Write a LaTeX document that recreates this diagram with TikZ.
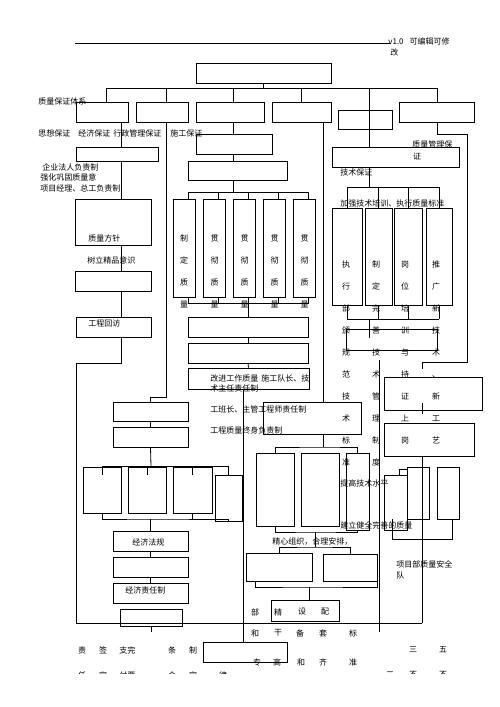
\documentclass[tikz,border=0pt]{standalone}
\usepackage{fontspec}
\newfontfamily\cjk{Noto Sans CJK SC}
\usepackage{tikz}

\begin{document}
\begin{tikzpicture}[x=1pt,y=1pt,line width=0.8pt,
    box/.style={draw=black,rectangle},
    txt/.style={font=\cjk\fontsize{8}{9}\selectfont,anchor=west},
    chr/.style={font=\cjk\fontsize{8}{9}\selectfont},
    vcol/.style={font=\cjk\fontsize{8}{22}\selectfont,align=center}]
            \tikzstyle{every node}+=[inner sep=0pt]
            \useasboundingbox (0,0) rectangle (500,-707);
            \coordinate (hdL) at (75,-43);
            \coordinate (hdR) at (390,-43);
            \draw [black] (hdL) -- (hdR);
            \node[txt] (ver) at (388,-41) {v1.0\hspace{6pt}可编辑可修};
            \node[txt] (ver2) at (390,-52) {改};
            \node[box,minimum width=135,minimum height=20] (top) at (263.5,-73) {};
            \node[box,minimum width=52,minimum height=20] (sysA) at (102,-112) {};
            \node[box,minimum width=52,minimum height=20] (sysB) at (162,-112) {};
            \node[box,minimum width=68,minimum height=20] (sysC) at (230,-112) {};
            \node[box,minimum width=59,minimum height=20] (sysD) at (301.5,-112) {};
            \node[box,minimum width=54,minimum height=19] (sysE) at (365,-119.5) {};
            \node[box,minimum width=75,minimum height=20] (sysF) at (436.5,-112) {};
            \node[box,minimum width=82,minimum height=14] (lead) at (117,-154) {};
            \node[box,minimum width=76,minimum height=46] (aim) at (113,-222) {};
            \node[box,minimum width=76,minimum height=20] (idea) at (113,-281) {};
            \node[box,minimum width=75,minimum height=20] (visit) at (113.5,-327) {};
            \node[box,minimum width=76,minimum height=20] (plan) at (234,-144) {};
            \node[box,minimum width=99,minimum height=19] (spread) at (237.5,-170.5) {};
            \node[box,minimum width=22,minimum height=98] (t1) at (184,-248) {};
            \node[box,minimum width=22,minimum height=98] (t2) at (214.5,-248) {};
            \node[box,minimum width=22,minimum height=98] (t3) at (244.5,-248) {};
            \node[box,minimum width=22,minimum height=98] (t4) at (274.5,-248) {};
            \node[box,minimum width=22,minimum height=98] (t5) at (304.5,-248) {};
            \node[box,minimum width=120,minimum height=20] (m1) at (248,-327) {};
            \node[box,minimum width=120,minimum height=20] (m2) at (248,-353) {};
            \node[box,minimum width=121,minimum height=21] (m3) at (248.5,-378.5) {};
            \node[box,minimum width=98,minimum height=32] (r1) at (312,-418) {};
            \node[box,minimum width=38,minimum height=73] (g1) at (275,-489.5) {};
            \node[box,minimum width=38,minimum height=73] (g2) at (320,-489.5) {};
            \node[box,minimum width=23,minimum height=77] (g3) at (357.5,-491.5) {};
            \node[box,minimum width=66,minimum height=28] (h1) at (279,-567) {};
            \node[box,minimum width=54,minimum height=27] (h2) at (350,-567.5) {};
            \node[box,minimum width=68,minimum height=21] (h3) at (305,-610.5) {};
            \node[box,minimum width=84,minimum height=20] (wk) at (245,-652) {};
            \node[box,minimum width=75,minimum height=19] (k1) at (150.5,-411.5) {};
            \node[box,minimum width=75,minimum height=20] (k2) at (150.5,-437) {};
            \node[box,minimum width=38,minimum height=46] (j1) at (102,-490) {};
            \node[box,minimum width=38,minimum height=46] (j2) at (147,-490) {};
            \node[box,minimum width=39,minimum height=46] (j3) at (192.5,-490) {};
            \node[box,minimum width=27,minimum height=46] (j4) at (228.5,-498) {};
            \node[box,minimum width=75,minimum height=20] (law) at (150.5,-541) {};
            \node[box,minimum width=75,minimum height=20] (k4) at (150.5,-567) {};
            \node[box,minimum width=75,minimum height=20] (duty) at (150.5,-593) {};
            \node[box,minimum width=62,minimum height=17] (k6) at (151,-617.5) {};
            \node[box,minimum width=127,minimum height=20] (mgmt) at (395.5,-157) {};
            \node[box,minimum width=30,minimum height=97] (q1) at (347,-256.5) {};
            \node[box,minimum width=27,minimum height=97] (q2) at (378.5,-256.5) {};
            \node[box,minimum width=28,minimum height=97] (q3) at (408,-256.5) {};
            \node[box,minimum width=26,minimum height=97] (q4) at (439,-256.5) {};
            \node[box,minimum width=91,minimum height=21] (rule) at (391.5,-339.5) {};
            \node[box,minimum width=98,minimum height=33] (n1) at (433,-393.5) {};
            \node[box,minimum width=90,minimum height=33] (n2) at (429,-439.5) {};
            \node[box,minimum width=23,minimum height=55] (u1) at (395.5,-502.5) {};
            \node[box,minimum width=22,minimum height=52] (u2) at (418,-493) {};
            \node[box,minimum width=22,minimum height=52] (u3) at (448,-493) {};
            \coordinate (bus0) at (263.5,-88);
            \coordinate (xA) at (106,0);
            \coordinate (xB) at (166,0);
            \coordinate (xC) at (233,0);
            \coordinate (xD) at (301,0);
            \coordinate (xDr) at (323,0);
            \coordinate (xE) at (369,0);
            \coordinate (xF) at (437,0);
            \coordinate (xL) at (121,0);
            \coordinate (xM) at (243,0);
            \coordinate (xN) at (422,0);
            \draw [black] (top.south) -- (bus0);
            \draw [black] (xA |- bus0) -- (xF |- bus0);
            \draw [black] (xA |- bus0) -- (xA |- sysA.north);
            \draw [black] (xB |- bus0) -- (xB |- sysB.north);
            \draw [black] (xC |- bus0) -- (xC |- sysC.north);
            \draw [black] (xD |- bus0) -- (xD |- sysD.north);
            \draw [black] (xF |- bus0) -- (xF |- sysF.north);
            \draw [black] (xE |- bus0) -- (xE |- mgmt.north);
            \draw [black] (xL |- sysA.south) -- (xL |- lead.north);
            \draw [black] (xL |- lead.south) -- (xL |- aim.north);
            \draw [black] (xL |- aim.south) -- (xL |- idea.north);
            \draw [black] (xL |- idea.south) -- (xL |- visit.north);
            \coordinate (frBL) at (76,-623);
            \coordinate (frBR) at (422,-623);
            \draw [black] (xL |- visit.south) -- ++(0,-26) -| (frBL) -- (frBR);
            \draw [black] (xN |- n2.south) -- (frBR);
            \draw [black] (xB |- sysB.south) -- (xB |- 0,-397) -| (k1.north);
            \draw [black] (xC |- sysC.south) -- (xC |- plan.north);
            \draw [black] (xC |- plan.south) -- (xC |- spread.north);
            \draw [black] (xC |- spread.south) -- ++(0,-13);
            \draw [black] ([xshift=4pt,yshift=6pt]t1.north) -- ([xshift=4pt,yshift=6pt]t5.north);
            \draw [black] ([xshift=4pt,yshift=6pt]t1.north) -- ([xshift=4pt]t1.north);
            \draw [black] ([xshift=4pt,yshift=6pt]t2.north) -- ([xshift=4pt]t2.north);
            \draw [black] ([xshift=4pt,yshift=6pt]t3.north) -- ([xshift=4pt]t3.north);
            \draw [black] ([xshift=4pt,yshift=6pt]t4.north) -- ([xshift=4pt]t4.north);
            \draw [black] ([xshift=4pt,yshift=6pt]t5.north) -- ([xshift=4pt]t5.north);
            \draw [black] ([xshift=4pt,yshift=-6pt]t1.south) -- ([xshift=4pt,yshift=-6pt]t5.south);
            \draw [black] ([xshift=4pt,yshift=-6pt]t1.south) -- ([xshift=4pt]t1.south);
            \draw [black] ([xshift=4pt,yshift=-6pt]t2.south) -- ([xshift=4pt]t2.south);
            \draw [black] ([xshift=4pt,yshift=-6pt]t3.south) -- ([xshift=4pt]t3.south);
            \draw [black] ([xshift=4pt,yshift=-6pt]t4.south) -- ([xshift=4pt]t4.south);
            \draw [black] ([xshift=4pt,yshift=-6pt]t5.south) -- ([xshift=4pt]t5.south);
            \draw [black] (m1.north) -- ++(0,14);
            \draw [black] (m1.south) -- (m2.north);
            \draw [black] (m2.south) -- (m3.north);
            \draw [black] (xM |- m3.south) -- (xM |- wk.north);
            \draw [black] (xDr |- sysD.south) -- (xDr |- r1.north);
            \coordinate (busG) at (323,-447);
            \draw [black] (xDr |- r1.south) -- (busG);
            \draw [black] (g1.north) |- (busG) -| (g3.north);
            \coordinate (busG2) at (315,-532);
            \draw [black] (g1.south) |- (busG2) -| (g3.south);
            \coordinate (busH) at (315,-547);
            \draw [black] (busG2) -- (busH);
            \draw [black] (h1.north) |- (busH) -| (h2.north);
            \coordinate (busH2) at (309,-587);
            \draw [black] ([xshift=10pt]h1.south west) |- (busH2) -| (h2.south east);
            \draw [black] (busH2) -- (busH2 |- h3.north);
            \draw [black] (k1.south) -- (k2.north);
            \coordinate (busJ) at (151,-466);
            \draw [black] (k2.south) -- (busJ);
            \draw [black] (j1.north |- busJ) -- (j4.north |- busJ);
            \draw [black] (j1.north |- busJ) -- ++(0,-9);
            \draw [black] (j2.north |- busJ) -- ++(0,-9);
            \draw [black] (j3.north |- busJ) -- ++(0,-9);
            \draw [black] (j4.north |- busJ) -- (j4.north);
            \coordinate (busJ2) at (151,-519);
            \draw [black] (j1.south) |- (busJ2) -| (j4.south);
            \draw [black] (j3.south) -- (j3.south |- busJ2);
            \draw [black] (law.north) -- ++(0,12);
            \draw [black] (law.south) -- (k4.north);
            \draw [black] (k4.south) -- (duty.north);
            \draw [black] (k6.south) -- ++(0,-6);
            \coordinate (busQ) at (369,-187);
            \draw [black] (xE |- mgmt.south) -- (busQ);
            \draw [black] (q1.north |- busQ) -- (q4.north |- busQ);
            \draw [black] (q1.north |- busQ) -- (q1.north);
            \draw [black] (q2.north |- busQ) -- (q2.north);
            \draw [black] (q3.north |- busQ) -- (q3.north);
            \draw [black] (q4.north |- busQ) -- (q4.north);
            \coordinate (busQ2) at (369,-319);
            \draw [black] (q1.south |- busQ2) -- (q4.south |- busQ2);
            \draw [black] (q1.south) -- (q1.south |- busQ2);
            \draw [black] (q2.south) -- (q2.south |- busQ2);
            \draw [black] (q3.south) -- (q3.south |- busQ2);
            \draw [black] (q4.south) -- (q4.south |- busQ2);
            \draw [black] (busQ2) -- ++(0,-19);
            \coordinate (rtD) at (379,-360);
            \draw [black] (rtD) -- ++(0,-272);
            \coordinate (rtA) at (467,-134);
            \coordinate (rtB) at (467,-362);
            \coordinate (rtC) at (422,-369);
            \draw [black] (xF |- sysF.south) |- (rtA) -- (rtB) -| (rtC);
            \draw [black] (xN |- n1.south) ++(0,7) -- ++(0,-11);
            \coordinate (lpA) at (392,-519);
            \coordinate (lpB) at (452,-519);
            \draw [black] (lpA) -- ++(0,-20) -| (lpB);
            \coordinate (elb) at (399,-469);
            \draw [black] (u2.west |- elb) -- (elb) -- (elb |- u1.north);
            \node[txt] (sys) at (38,-101) {质量保证体系};
            \node[txt] (gdA) at (38,-133) {思想保证};
            \node[txt] (gdB) at (78,-133) {经济保证};
            \node[txt] (gdC) at (113,-133) {行政管理保证};
            \node[txt] (gdD) at (170,-133) {施工保证};
            \node[txt] (mgt) at (412,-144) {质量管理保};
            \node[chr] (mgt2) at (417,-156) {证};
            \node[txt] (tech) at (340,-172) {技术保证};
            \node[txt] (train) at (340,-203) {加强技术培训、执行质量标准};
            \node[txt] (own1) at (42,-167) {企业法人负责制};
            \node[txt] (own2) at (40,-177) {强化巩固质量意};
            \node[txt] (own3) at (40,-188) {项目经理、总工负责制};
            \node[txt] (aimt) at (88,-238) {质量方针};
            \node[txt] (ideat) at (87,-260) {树立精品意识};
            \node[txt] (visitt) at (88,-323) {工程回访};
            \node[txt] (impr1) at (210,-378) {改进工作质量\hspace{3pt}施工队长、技};
            \node[txt] (impr2) at (210,-388) {术主任责任制};
            \node[txt] (resp1) at (210,-409) {工班长、主管工程师责任制};
            \node[txt] (resp2) at (210,-430) {工程质量终身负责制};
            \node[txt] (lvl) at (340,-483) {提高技术水平};
            \node[txt] (sound) at (340,-525) {建立健全完善的质量};
            \node[txt] (org) at (272,-542) {精心组织，合理安排，};
            \node[txt] (team1) at (396,-564) {项目部质量安全};
            \node[txt] (team2) at (396,-575) {队};
            \node[txt] (lawt) at (132,-542) {经济法规};
            \node[txt] (dutyt) at (125,-590) {经济责任制};
            \node[vcol] (c1) at (184,-271.5) {制\\定\\质\\量};
            \node[vcol] (c2) at (214.5,-271.5) {贯\\彻\\质\\量};
            \node[vcol] (c3) at (244.5,-271.5) {贯\\彻\\质\\量};
            \node[vcol] (c4) at (274.5,-271.5) {贯\\彻\\质\\量};
            \node[vcol] (c5) at (304.5,-271.5) {贯\\彻\\质\\量};
            \node[vcol] (d1) at (346,-363.5) {执\\行\\部\\颁\\规\\范\\技\\术\\标\\准};
            \node[vcol] (d2) at (376,-363.5) {制\\定\\完\\善\\技\\术\\管\\理\\制\\度};
            \node[vcol] (d3) at (405,-352.5) {岗\\位\\培\\训\\与\\持\\证\\上\\岗};
            \node[vcol] (d4) at (436,-352.5) {推\\广\\新\\技\\术\\、\\新\\工\\艺};
            \node[chr] (e1) at (255,-612) {部}; \node[chr] (e2) at (278,-612) {精}; \node[chr] (e3) at (302,-612) {设}; \node[chr] (e4) at (325,-612) {配};
            \node[chr] (f1) at (255,-633) {和}; \node[chr] (f2) at (278,-633) {干}; \node[chr] (f3) at (300,-633) {备}; \node[chr] (f4) at (323,-633) {套}; \node[chr] (f5) at (353,-633) {标};
            \node[chr] (p1) at (82,-650) {责}; \node[chr] (p2) at (103,-650) {签}; \node[txt] (p3) at (119,-650) {支完}; \node[chr] (p4) at (172,-650) {条}; \node[chr] (p5) at (193,-650) {制}; \node[chr] (p6) at (413,-650) {三}; \node[chr] (p7) at (443,-650) {五};
            \node[chr] (s1) at (257,-662) {专}; \node[chr] (s2) at (277,-662) {高}; \node[chr] (s3) at (301,-662) {和}; \node[chr] (s4) at (323,-662) {齐}; \node[chr] (s5) at (353,-662) {准};
            \begin{scope}
            \clip (0,-600) rectangle (500,-673);
            \node[chr] (v1) at (82,-675) {任}; \node[chr] (v2) at (103,-675) {定}; \node[txt] (v3) at (119,-675) {付要}; \node[chr] (v4) at (172,-675) {合}; \node[chr] (v5) at (193,-675) {定}; \node[chr] (v6) at (223,-675) {律}; \node[chr] (v7) at (390,-675) {二}; \node[chr] (v8) at (413,-675) {不}; \node[chr] (v9) at (443,-675) {不};
            \end{scope}
\end{tikzpicture}
\end{document}
